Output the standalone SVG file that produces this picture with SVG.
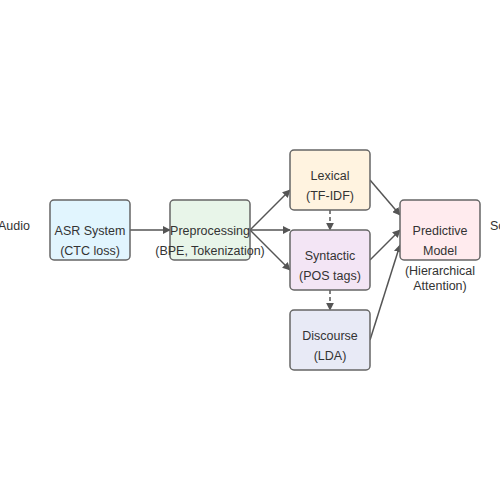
<svg xmlns="http://www.w3.org/2000/svg" width="500" height="500" viewBox="0 0 500 500">
<defs>
<style>
.box{stroke:#666;stroke-width:1.5}
text{font-family:"Liberation Sans",Arial,sans-serif;font-size:12.5px;fill:#333;text-anchor:middle}
.edge{stroke:#555;stroke-width:1.5;fill:none;marker-end:url(#arr)}
.dash{stroke-dasharray:4,3}
</style>
<marker id="arr" viewBox="0 0 10 10" refX="9" refY="5" markerWidth="8" markerHeight="8" orient="auto" markerUnits="userSpaceOnUse"><path d="M0,0 L10,5 L0,10 z" fill="#555"/></marker>
</defs>
<rect width="500" height="500" fill="#fff"/>
<g id="connectors">
<line class="edge" x1="130" y1="230" x2="170" y2="230"/>
<line class="edge" x1="250" y1="230" x2="290" y2="190"/>
<line class="edge" x1="250" y1="230" x2="290" y2="230"/>
<line class="edge" x1="250" y1="230" x2="290" y2="270"/>
<line class="edge dash" x1="330" y1="210" x2="330" y2="230"/>
<line class="edge dash" x1="330" y1="290" x2="330" y2="310"/>
<line class="edge" x1="370" y1="180" x2="400" y2="215"/>
<line class="edge" x1="370" y1="260" x2="400" y2="230"/>
<line class="edge" x1="370" y1="340" x2="400" y2="245"/>
</g>
<g id="audio"><text x="30" y="230" style="text-anchor:end">Audio</text></g>
<g id="asr"><rect class="box" x="50" y="200" width="80" height="60" rx="4" fill="#e1f5fe"/><text x="90" y="235">ASR System</text><text x="90" y="255">(CTC loss)</text></g>
<g id="preprocessing"><rect class="box" x="170" y="200" width="80" height="60" rx="4" fill="#e8f5e9"/><text x="210" y="235">Preprocessing</text><text x="210" y="255">(BPE, Tokenization)</text></g>
<g id="lexical"><rect class="box" x="290" y="150" width="80" height="60" rx="4" fill="#fff3e0"/><text x="330" y="180">Lexical</text><text x="330" y="200">(TF-IDF)</text></g>
<g id="syntactic"><rect class="box" x="290" y="230" width="80" height="60" rx="4" fill="#f3e5f5"/><text x="330" y="260">Syntactic</text><text x="330" y="280">(POS tags)</text></g>
<g id="discourse"><rect class="box" x="290" y="310" width="80" height="60" rx="4" fill="#e8eaf6"/><text x="330" y="340">Discourse</text><text x="330" y="360">(LDA)</text></g>
<g id="predictive"><rect class="box" x="400" y="200" width="80" height="60" rx="4" fill="#ffebee"/><text x="440" y="235">Predictive</text><text x="440" y="255">Model</text><text x="440" y="275">(Hierarchical</text><text x="440" y="290">Attention)</text></g>
<g id="score"><text x="490" y="230" style="text-anchor:start">Score</text></g>
</svg>
